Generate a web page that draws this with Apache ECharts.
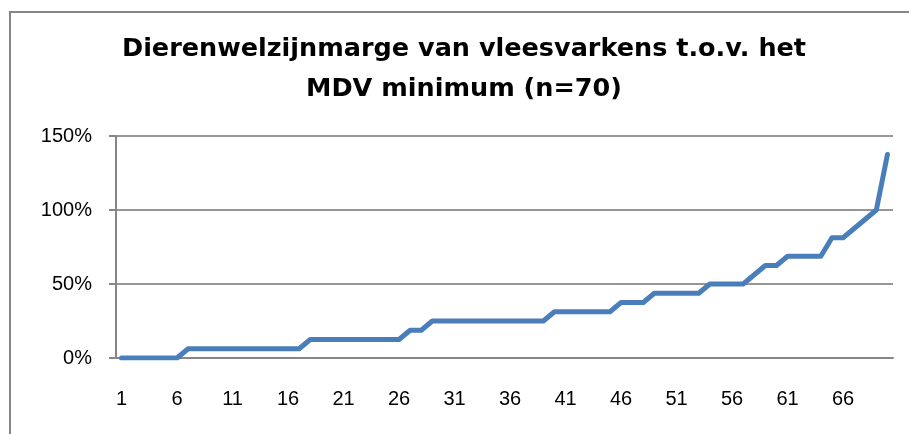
<!DOCTYPE html>
<html><head><meta charset="utf-8">
<script src="https://cdn.jsdelivr.net/npm/echarts@6/dist/echarts.min.js"></script>
<style>html,body{margin:0;padding:0;background:#fff}#c{width:909px;height:434px}</style>
</head><body><div id="c"></div>
<script>
const titleText = 'Dierenwelzijnmarge van vleesvarkens t.o.v. het\nMDV minimum (n=70)';
const categories = [];
for (let i = 1; i <= 70; i++) categories.push(String(i));
const values = [
  0,0,0,0,0,0,
  6.25,6.25,6.25,6.25,6.25,6.25,6.25,6.25,6.25,6.25,6.25,
  12.5,12.5,12.5,12.5,12.5,12.5,12.5,12.5,12.5,
  18.75,18.75,
  25,25,25,25,25,25,25,25,25,25,25,
  31.25,31.25,31.25,31.25,31.25,31.25,
  37.5,37.5,37.5,
  43.75,43.75,43.75,43.75,43.75,
  50,50,50,50,
  56.25,
  62.5,62.5,
  68.75,68.75,68.75,68.75,
  81.25,81.25,
  87.5,
  93.75,
  100,
  137.5
];
const yTicks = [0, 50, 100, 150];
const chart = echarts.init(document.getElementById('c'));
chart.setOption({
  animation: false,
  graphic: [
    {type:'rect', shape:{x:10,y:12,width:1000,height:1000}, style:{fill:'none', stroke:'#868686', lineWidth:2}, silent:true},
    {type:'text', x:464, y:29, silent:true, style:{
      text:titleText, align:'center', verticalAlign:'top',
      fontFamily:'DejaVu Sans', fontWeight:'bold', fontSize:25.5, lineHeight:40, fill:'#000'
    }}
  ],
  grid: {left:116, right:16, top:136, bottom:76, containLabel:false},
  xAxis: {
    type:'category', data: categories, boundaryGap:true,
    axisLine:{lineStyle:{color:'#868686', width:2}},
    axisTick:{interval:0, length:7, lineStyle:{color:'#868686', width:2}},
    axisLabel:{interval:4, color:'#000', fontFamily:'Liberation Sans', fontSize:20, margin:31}
  },
  yAxis: {
    type:'value', min:yTicks[0], max:yTicks[yTicks.length-1], interval:50,
    axisLine:{show:true, lineStyle:{color:'#868686', width:2}},
    axisTick:{show:true, length:7, lineStyle:{color:'#868686', width:2}},
    splitLine:{lineStyle:{color:'#969696', width:2}},
    axisLabel:{formatter:'{value}%', color:'#000', fontFamily:'Liberation Sans', fontSize:20, margin:24}
  },
  series: [{
    type:'line', data: values, symbol:'none',
    lineStyle:{color:'#4a7ebb', width:5, cap:'round', join:'round'}
  }]
});
</script></body></html>
